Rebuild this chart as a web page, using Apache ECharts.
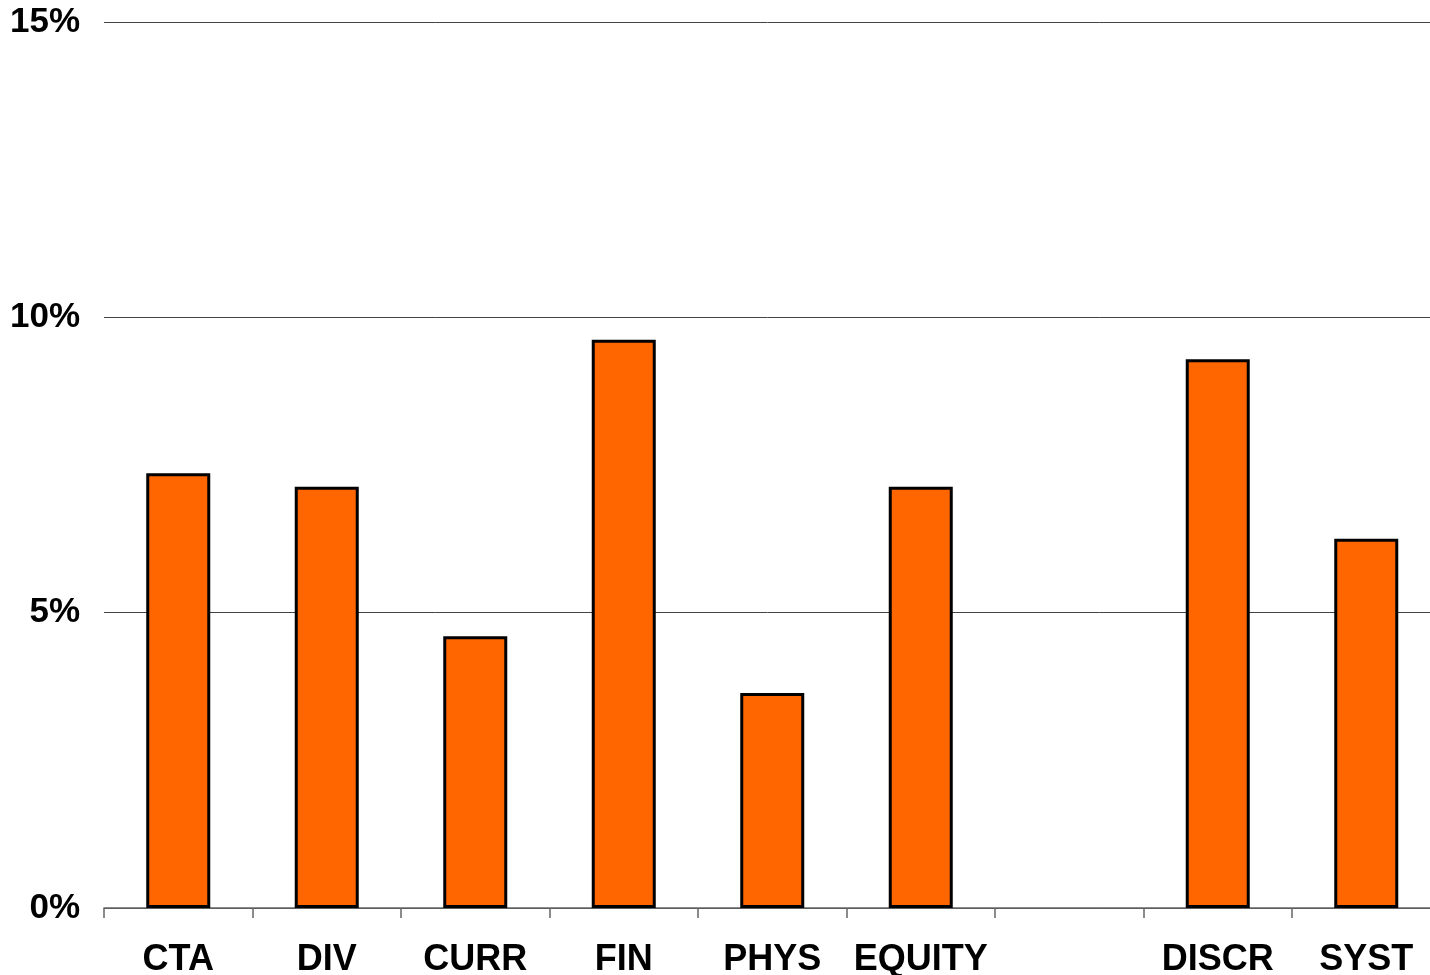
<!DOCTYPE html>
<html>
<head>
<meta charset="utf-8">
<script src="https://cdn.jsdelivr.net/npm/echarts@6/dist/echarts.min.js"></script>
<style>
  html, body { margin: 0; padding: 0; background: #ffffff; overflow: hidden; }
  #chart { width: 1430px; height: 975px; }
</style>
</head>
<body>
<div id="chart"></div>
<script>
// Strategy categories (one blank slot separates the two groups)
const categories = ['CTA', 'DIV', 'CURR', 'FIN', 'PHYS', 'EQUITY', '', 'DISCR', 'SYST'];
// Values in percent
const values = [7.36, 7.13, 4.60, 9.62, 3.64, 7.13, null, 9.29, 6.25];
// Value axis ticks (percent)
const yMin = 0, yMax = 15, yStep = 5;

const chart = echarts.init(document.getElementById('chart'));
chart.setOption({
  animation: false,
  backgroundColor: '#ffffff',
  // the plot area runs slightly past the right edge of the canvas
  grid: {
    left: 104, right: -10.5, top: 22, bottom: 67,
    containLabel: false,
    outerBoundsMode: 'none'
  },
  xAxis: {
    type: 'category',
    data: categories,
    boundaryGap: true,
    axisLine: { show: true, lineStyle: { color: '#666666', width: 1.5 } },
    axisTick: { show: true, length: 10, lineStyle: { color: '#666666', width: 1.5 } },
    axisLabel: {
      interval: 0,
      margin: 34,
      color: '#000000',
      fontFamily: 'Liberation Sans, Arial, sans-serif',
      fontWeight: 'bold',
      fontSize: 36
    },
    splitLine: { show: false }
  },
  yAxis: {
    type: 'value',
    min: yMin,
    max: yMax,
    interval: yStep,
    axisLine: { show: false },
    axisTick: { show: false },
    axisLabel: {
      margin: 24,
      formatter: v => v + '%',
      color: '#000000',
      fontFamily: 'Liberation Sans, Arial, sans-serif',
      fontWeight: 'bold',
      fontSize: 35
    },
    splitLine: { show: true, lineStyle: { color: '#444444', width: 1 } }
  },
  series: [{
    type: 'bar',
    data: values,
    barWidth: 64,
    itemStyle: { color: '#FF6600', borderColor: '#000000', borderWidth: 3 }
  }]
});
</script>
</body>
</html>
